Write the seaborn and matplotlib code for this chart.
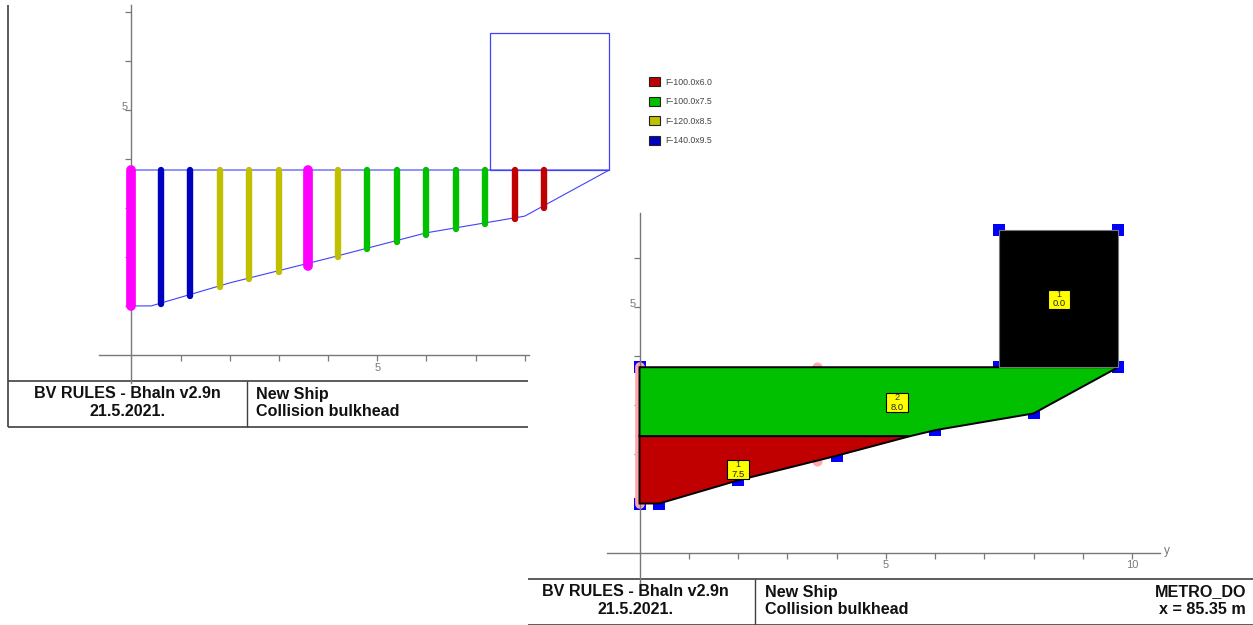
import numpy as np
import pandas as pd
import matplotlib
matplotlib.use("Agg")
import matplotlib.pyplot as plt
from matplotlib.patches import Patch, Rectangle
import seaborn as sns

# hull section, metres
hull_y = [0.0, 0.4, 2.0, 4.0, 6.0, 8.0, 9.72, 0.0, 0.0]
hull_z = [1.0, 1.0, 1.47, 1.97, 2.49, 2.83, 3.77, 3.77, 1.0]
box_y = [7.3, 9.72, 9.72, 7.3, 7.3]
box_z = [3.77, 3.77, 6.56, 6.56, 3.77]

# stiffeners of the left view
stiff_y = [0.0, 0.6, 1.2, 1.8, 2.4, 3.0, 3.6, 4.2, 4.8, 5.4, 6.0, 6.6, 7.2, 7.8, 8.4]
stiff_bottom = [1.0, 1.03, 1.2, 1.38, 1.55, 1.7, 1.82, 2.0, 2.16, 2.3, 2.45, 2.57, 2.67, 2.77, 2.99]
stiff_section = ["T", "F-140.0x9.5", "F-140.0x9.5", "F-120.0x8.5", "F-120.0x8.5", "F-120.0x8.5",
                 "T", "F-120.0x8.5", "F-100.0x7.5", "F-100.0x7.5", "F-100.0x7.5", "F-100.0x7.5",
                 "F-100.0x7.5", "F-100.0x6.0", "F-100.0x6.0"]
stiff_top = 3.77

sections = ["F-100.0x6.0", "F-100.0x7.5", "F-120.0x8.5", "F-140.0x9.5"]
section_colors = ["#c00000", "#00c000", "#c0c000", "#0000c0"]

# plates of the right view
red_y = [0.0, 0.4, 2.0, 4.0, 5.5, 0.0]
red_z = [1.0, 1.0, 1.47, 1.97, 2.37, 2.37]
green_y = [0.0, 5.5, 6.0, 8.0, 9.72, 0.0]
green_z = [2.37, 2.37, 2.49, 2.83, 3.77, 3.77]
black_y = box_y[:4]
black_z = box_z[:4]
node_y = [0.0, 0.0, 0.4, 2.0, 4.0, 6.0, 8.0, 9.72, 7.3, 7.3, 9.72]
node_z = [1.0, 3.77, 1.0, 1.47, 1.97, 2.49, 2.83, 3.77, 3.77, 6.56, 6.56]
plate_numbers = ["1", "2", "1"]
plate_thick = ["7.5", "8.0", "0.0"]
plate_label_y = [2.0, 5.23, 8.52]
plate_label_z = [1.69, 3.05, 5.15]

W, H = 1253, 625
GREY = "#787878"

sns.set_style("white")
plt.rcParams["font.family"] = ["Liberation Sans", "DejaVu Sans"]

fig = plt.figure(figsize=(W / 100, H / 100), dpi=100)


def add_panel(left, top, right, bottom, x0, y0, xscale, yscale):
    ax = fig.add_axes([left / W, 1 - bottom / H, (right - left) / W, (bottom - top) / H])
    ax.set_xlim((left - x0) / xscale, (right - x0) / xscale)
    ax.set_ylim((y0 - bottom) / yscale, (y0 - top) / yscale)
    ax.patch.set_alpha(0)
    for side in ["top", "right"]:
        ax.spines[side].set_visible(False)
    for side in ["left", "bottom"]:
        ax.spines[side].set_position(("data", 0))
        ax.spines[side].set_color(GREY)
        ax.spines[side].set_linewidth(1.0)
    ax.tick_params(left=True, bottom=True, length=4.3, width=0.9, color=GREY,
                   labelcolor=GREY, labelsize=8)
    ax.tick_params(axis="y", pad=-1.5)
    ax.tick_params(axis="x", pad=1.3)
    return ax


def set_ticks(ax, xticks, yticks):
    ax.set_xticks(xticks, [str(t) if t % 5 == 0 else "" for t in xticks])
    ax.set_yticks(yticks, [str(t) if t % 5 == 0 else "" for t in yticks])
    for lab in ax.get_yticklabels():
        lab.set_va("baseline")
    ax.set_xlabel("")
    ax.set_ylabel("")


# title blocks and frame, in pixels
bg = fig.add_axes([0, 0, 1, 1])
bg.set_xlim(0, W)
bg.set_ylim(H, 0)
bg.axis("off")
LINE = "#404040"
bg.vlines(8, 5, 427, color=LINE, lw=1.2)
bg.hlines([380.5, 427], 8, 528, color=LINE, lw=1.2)
bg.vlines(246.5, 380.5, 427, color=LINE, lw=1.0)
bg.hlines([579, 624.5], 528, W, color=LINE, lw=1.2)
bg.vlines(755, 579, 624.5, color=LINE, lw=1.0)

text_kw = dict(fontsize=11.65, fontweight="bold", color="#111111", va="center")
bg.text(127, 394, "BV RULES - Bhaln v2.9n", ha="center", **text_kw)
bg.text(127, 412, "21.5.2021.", ha="center", **text_kw)
bg.text(256, 394, "New Ship", ha="left", **text_kw)
bg.text(256, 412, "Collision bulkhead", ha="left", **text_kw)
bg.text(635, 592, "BV RULES - Bhaln v2.9n", ha="center", **text_kw)
bg.text(635, 610, "21.5.2021.", ha="center", **text_kw)
bg.text(765, 592, "New Ship", ha="left", **text_kw)
bg.text(765, 610, "Collision bulkhead", ha="left", **text_kw)
bg.text(1246, 592, "METRO_DO", ha="right", **text_kw)
bg.text(1246, 610, "x = 85.35 m", ha="right", **text_kw)

# left view
ax1 = add_panel(99, 5, 620, 383, 131.5, 355, 49.15, 49.07)
ax1.spines["bottom"].set_bounds(-0.66, 8.08)

outline = "#4040ff"
sns.lineplot(x=hull_y, y=hull_z, sort=False, estimator=None, color=outline, lw=0.8, ax=ax1)
sns.lineplot(x=box_y, y=box_z, sort=False, estimator=None, color=outline, lw=0.9, ax=ax1)

colors = dict(zip(sections, section_colors))
colors["T"] = "#ff00ff"
for y, z, sec in zip(stiff_y, stiff_bottom, stiff_section):
    stiff = pd.DataFrame({"y": [y, y], "z": [z, stiff_top]})
    sns.lineplot(data=stiff, x="y", y="z", sort=False, estimator=None, color=colors[sec],
                 lw=7.0 if sec == "T" else 4.6, solid_capstyle="round", ax=ax1, zorder=3)
set_ticks(ax1, list(range(1, 9)), list(range(1, 8)))

handles = [Patch(facecolor=c, edgecolor="#222222", lw=0.8, label=s)
           for s, c in zip(sections, section_colors)]
fig.legend(handles=handles, loc="upper left", bbox_to_anchor=(649 / W, 1 - 77 / H),
           frameon=False, fontsize=6.35, handlelength=1.25, handleheight=1.25,
           labelspacing=1.12, handletextpad=0.55, borderaxespad=0, borderpad=0,
           labelcolor="#444444")

# right view
ax2 = add_panel(607, 213, 1160, 583, 639.5, 552.7, 49.25, 49.2)
sns.scatterplot(x=node_y, y=node_z, marker="s", s=72, color="#0000ff", linewidth=0, ax=ax2,
                zorder=2, clip_on=False)
sns.lineplot(x=[0, 0], y=[1.0, stiff_top], sort=False, estimator=None, color="#ffa8a8", lw=7,
             solid_capstyle="round", ax=ax2, zorder=2.5)
sns.scatterplot(x=[3.6, 3.6], y=[stiff_top, 1.87], s=52, color="#ffa8a8", linewidth=0, ax=ax2, zorder=2.5)
ax2.fill(red_y, red_z, facecolor="#c00000", edgecolor="black", lw=1.4, zorder=3)
ax2.fill(green_y, green_z, facecolor="#00c000", edgecolor="black", lw=1.4, zorder=3)
ax2.fill(black_y, black_z, facecolor="black", edgecolor="#777777", lw=0.8, zorder=4)
for y, z, num, thick in zip(plate_label_y, plate_label_z, plate_numbers, plate_thick):
    ax2.add_patch(Rectangle((y - 0.23, z - 0.195), 0.46, 0.39, facecolor="#ffff00",
                            edgecolor="black", lw=0.8, zorder=5))
    ax2.text(y, z + 0.095, num, ha="center", va="center", fontsize=6.6, color="#333333", zorder=6)
    ax2.text(y, z - 0.095, thick, ha="center", va="center", fontsize=6.8, color="#222222", zorder=6)
set_ticks(ax2, list(range(1, 11)), list(range(1, 7)))
ax2.text(10.7, 0.03, "y", color=GREY, fontsize=8.5, ha="center", va="center")

fig.savefig("out.png", dpi=100)
